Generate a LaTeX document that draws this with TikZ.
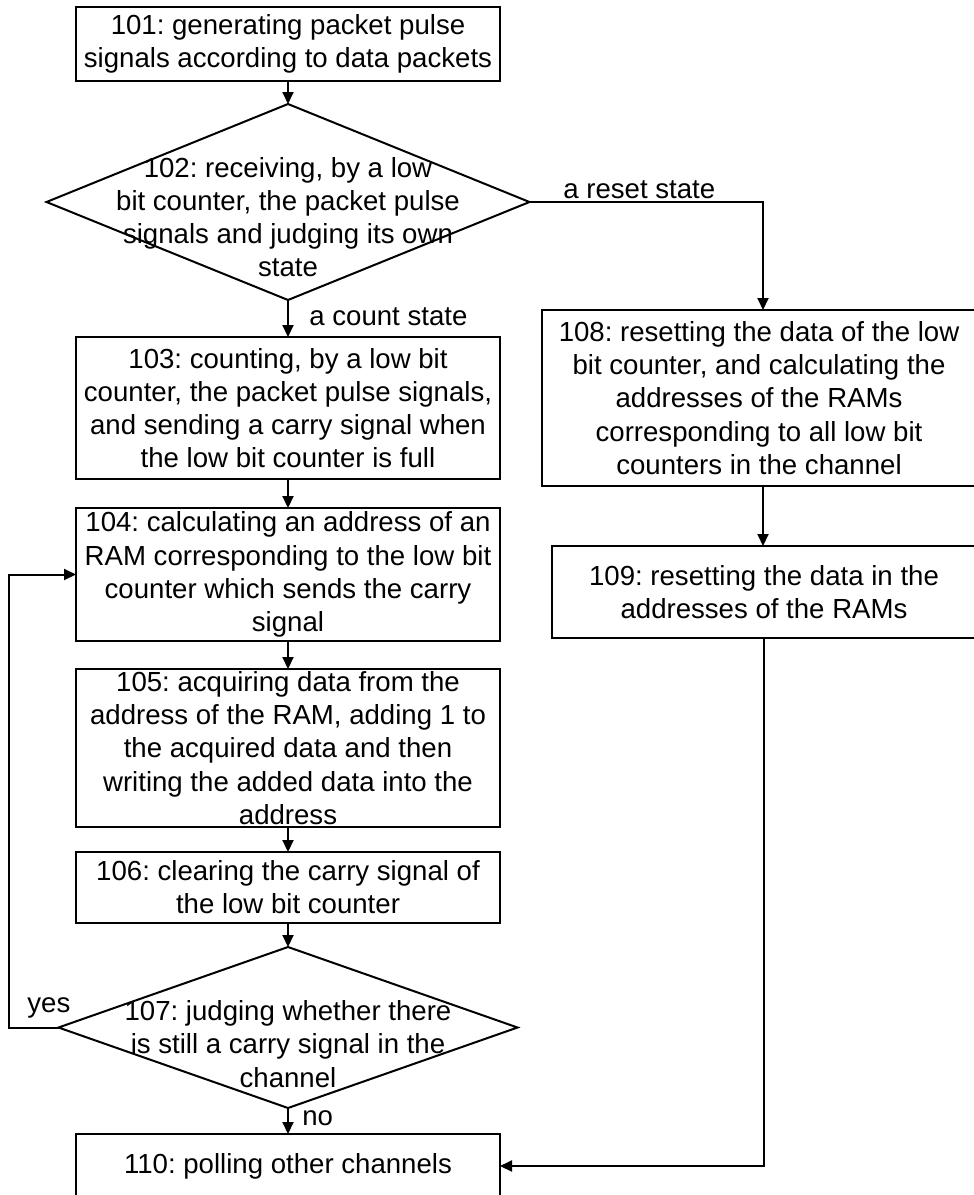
\documentclass[tikz,border=0pt]{standalone}
\usepackage{fontspec}
\setmainfont{Liberation Sans}
\usetikzlibrary{shapes.geometric,arrows.meta}
\frenchspacing
\tikzset{
    stepbox/.style={draw, rectangle, line width=1pt, minimum width=212pt, inner sep=0pt, outer sep=0pt, align=center},
    decision/.style={draw, diamond, line width=1pt, inner sep=0pt, outer sep=0pt},
    steptext/.style={align=center, inner sep=0pt},
    flow/.style={line width=1pt, -{Triangle[length=6pt,width=5.5pt]}},
    edgelabel/.style={inner sep=0pt, anchor=base west}
}

\begin{document}
\begin{tikzpicture}[x=0.5pt, y=-0.5pt, font=\fontsize{13.8}{16.6}\selectfont]
    \useasboundingbox (0,0) rectangle (974,1195);

    \node[stepbox, minimum height=37pt] (s101) at (288,44) {101: generating packet pulse\\signals according to data packets};
    \node[decision, minimum width=241.5pt, minimum height=98pt] (s102) at (288,202) {};
    \node[steptext] (t102) at (288,217) {102: receiving, by a low\\bit counter, the packet pulse\\signals and judging its own\\state};
    \node[stepbox, minimum height=71pt] (s103) at (288,408) {103: counting, by a low bit\\counter, the packet pulse signals,\\and sending a carry signal when\\the low bit counter is full};
    \node[stepbox, minimum height=66.5pt] (s104) at (288,574.5) {104: calculating an address of an\\RAM corresponding to the low bit\\counter which sends the carry\\signal};
    \node[stepbox, minimum height=79pt] (s105) at (288,748) {105: acquiring data from the\\address of the RAM, adding 1 to\\the acquired data and then\\writing the added data into the\\address};
    \node[stepbox, minimum height=35.5pt] (s106) at (288,887.5) {106: clearing the carry signal of\\the low bit counter};
    \node[decision, minimum width=229.5pt, minimum height=80.5pt] (s107) at (288,1027.5) {};
    \node[steptext] (t107) at (288,1044) {107: judging whether there\\is still a carry signal in the\\channel};
    \node[stepbox, minimum height=32pt] (s110) at (288,1166) {110: polling other channels};
    \node[stepbox, minimum width=217pt, minimum height=88pt] (s108) at (759,398) {108: resetting the data of the low\\bit counter, and calculating the\\addresses of the RAMs\\corresponding to all low bit\\counters in the channel};
    \node[stepbox, minimum height=46pt] (s109) at (764,592) {109: resetting the data in the\\addresses of the RAMs};

    \coordinate (c108) at (763,202);

    \node[edgelabel] (l102r) at (563,198) {a reset state};
    \node[edgelabel] (l102c) at (309,325) {a count state};
    \node[edgelabel] (l107y) at (27,1012) {yes};
    \node[edgelabel] (l107n) at (302,1125) {no};

    \draw[flow] (s101.south) -- (s102.north);
    \draw[flow] (s102.south) -- (s103.north);
    \draw[flow] (s103.south) -- (s104.north);
    \draw[flow] (s104.south) -- (s105.north);
    \draw[flow] (s105.south) -- (s106.north);
    \draw[flow] (s106.south) -- (s107.north);
    \draw[flow] (s107.south) -- (s110.north);
    \draw[flow] (s107.west) -- ++(-50,0) |- (s104.west);
    \draw[flow] (s102.east) -- (c108) -- (c108 |- s108.north);
    \draw[flow] (c108 |- s108.south) -- (c108 |- s109.north);
    \draw[flow] (s109.south) -- (s109.south |- s110.east) -- (s110.east);
\end{tikzpicture}
\end{document}
